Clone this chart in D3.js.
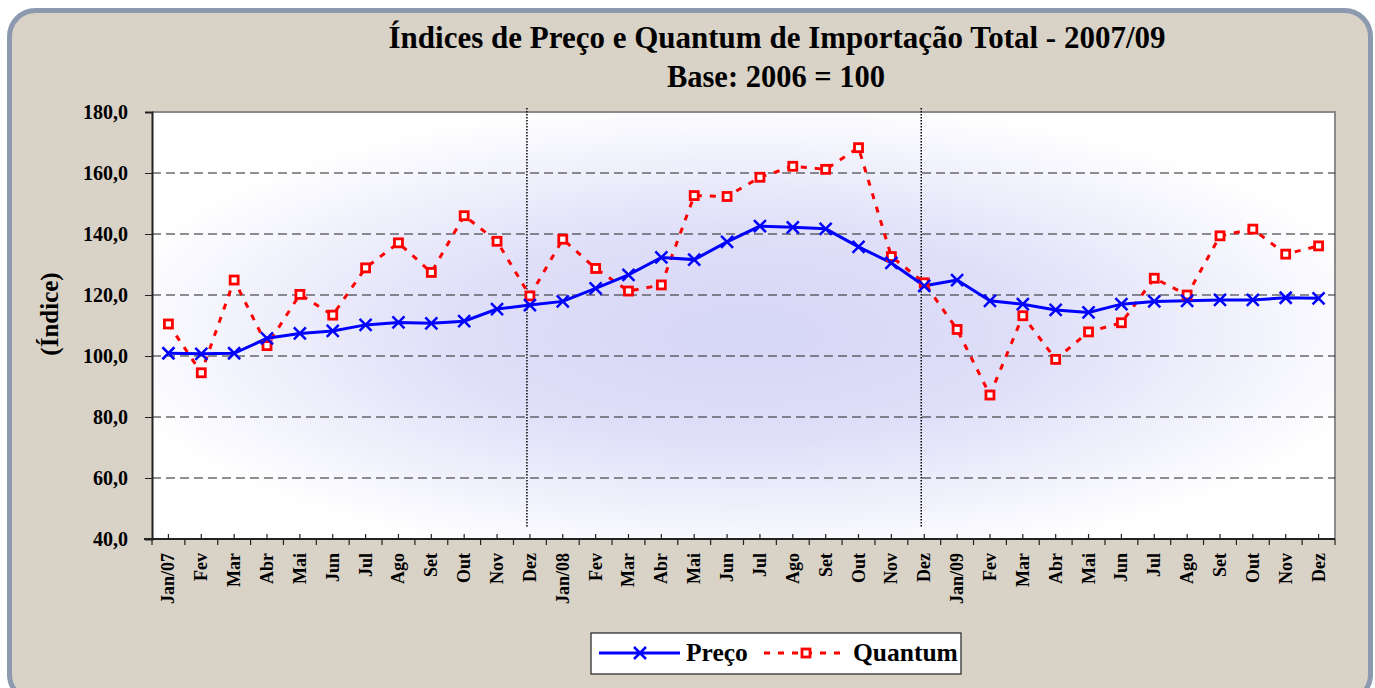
<!DOCTYPE html>
<html><head><meta charset="utf-8">
<script src="https://cdn.jsdelivr.net/npm/d3@7/dist/d3.min.js"></script>
<style>body{margin:0;background:#fff}svg{display:block}text{font-family:"Liberation Serif","Times New Roman",serif;font-weight:bold}</style>
</head><body><svg id="c" width="1375" height="688"></svg>
<script>
const months = ["Jan/07","Fev","Mar","Abr","Mai","Jun","Jul","Ago","Set","Out","Nov","Dez",
  "Jan/08","Fev","Mar","Abr","Mai","Jun","Jul","Ago","Set","Out","Nov","Dez",
  "Jan/09","Fev","Mar","Abr","Mai","Jun","Jul","Ago","Set","Out","Nov","Dez"];
const preco = [100.9,100.7,100.9,105.8,107.4,108.2,110.2,111.0,110.7,111.4,115.4,116.7,
  117.9,122.2,126.6,132.3,131.6,137.4,142.6,142.2,141.7,135.8,130.5,123.0,
  124.9,118.1,117.0,115.1,114.3,117.0,117.9,118.1,118.4,118.4,119.1,118.9];
const quantum = [110.5,94.5,124.9,103.4,120.2,113.4,128.9,137.1,127.4,146.0,137.6,119.7,
  138.3,128.7,121.3,123.3,152.6,152.3,158.6,162.2,161.2,168.3,132.6,124.0,
  108.7,87.2,113.2,98.9,107.9,110.9,125.5,120.0,139.4,141.6,133.4,136.1];
const yTicks = [40,60,80,100,120,140,160,180];
const dividers = [11,23];
const titleLines = ["Índices de Preço e Quantum de Importação Total - 2007/09","Base: 2006 = 100"];
const yTitle = "(Índice)";
const legendNames = ["Preço","Quantum"];

const svg = d3.select("#c");
const defs = svg.append("defs");
const rg = defs.append("radialGradient").attr("id","bg").attr("cx","0.5").attr("cy","0.52").attr("r","0.55");
rg.append("stop").attr("offset","0").attr("stop-color","#d6d6f6");
rg.append("stop").attr("offset","0.45").attr("stop-color","#dfdff9");
rg.append("stop").attr("offset","1").attr("stop-color","#ffffff");

// frame
svg.append("rect").attr("x",9.5).attr("y",10.5).attr("width",1361).attr("height",690).attr("rx",26)
  .attr("fill","#d9d2c7").attr("stroke","#8c99ae").attr("stroke-width",5);

const L=152, T=112, R=1335, B=539;
const x = d3.scaleBand().domain(d3.range(months.length)).range([L,R]);
const y = d3.scaleLinear().domain([40,180]).range([B,T]);
const cx = i => x(i)+x.bandwidth()/2;

svg.append("rect").attr("x",L).attr("y",T).attr("width",R-L).attr("height",B-T).attr("fill","url(#bg)");
svg.append("path").attr("d",`M${L},${T}H${R}V${B}`).attr("fill","none").attr("stroke","#8a8a8a").attr("stroke-width",2);

// gridlines
svg.append("g").selectAll("line").data(yTicks.filter(v=>v>40 && v<180)).join("line")
  .attr("x1",L).attr("x2",R).attr("y1",d=>y(d)).attr("y2",d=>y(d))
  .attr("stroke","#222").attr("stroke-width",1.2).attr("stroke-dasharray","9,5");

// dividers
svg.append("g").selectAll("line").data(dividers).join("line")
  .attr("x1",d=>cx(d)-3).attr("x2",d=>cx(d)-3).attr("y1",108).attr("y2",527)
  .attr("stroke","#000").attr("stroke-width",1.5).attr("stroke-dasharray","1.5,1.5");

// y axis
const yAxis = d3.axisLeft(y).tickValues(yTicks).tickSize(7).tickPadding(17)
  .tickFormat(d=>d3.format(".1f")(d).replace(".",","));
const gy = svg.append("g").attr("transform",`translate(${L},0)`).call(yAxis);
gy.select(".domain").attr("stroke","#222").attr("stroke-width",2);
gy.selectAll(".tick line").attr("stroke","#222");
gy.selectAll("text").attr("font-size",20).attr("fill","#000").attr("font-family","Liberation Serif").attr("font-weight","bold");

// x axis
const gx = svg.append("g");
gx.append("line").attr("x1",L-8).attr("x2",R).attr("y1",B).attr("y2",B).attr("stroke","#222").attr("stroke-width",2);
gx.selectAll("line.maj").data(d3.range(months.length+1)).join("line").attr("class","maj")
  .attr("x1",i=>L+i*x.step()).attr("x2",i=>L+i*x.step()).attr("y1",B).attr("y2",B+6).attr("stroke","#222").attr("stroke-width",1.2);
gx.selectAll("line.min").data(d3.range(months.length)).join("line").attr("class","min")
  .attr("x1",cx).attr("x2",cx).attr("y1",B).attr("y2",B-5).attr("stroke","#222").attr("stroke-width",1.2);
gx.selectAll("text").data(months).join("text")
  .attr("transform",(d,i)=>`translate(${cx(i)+6},553) rotate(-90)`)
  .attr("text-anchor","end").attr("font-size",18).text(d=>d);

// lines
const lineGen = d3.line().x((d,i)=>cx(i)).y(d=>y(d));
svg.append("path").datum(quantum).attr("d",lineGen).attr("fill","none").attr("stroke","#ff0000")
  .attr("stroke-width",3).attr("stroke-dasharray","6,8");
svg.append("path").datum(preco).attr("d",lineGen).attr("fill","none").attr("stroke","#0000ff").attr("stroke-width",3);

// markers
function xMark(g,px,py){ const s=6;
  g.append("path").attr("d",`M${px-s},${py-s}L${px+s},${py+s}M${px-s},${py+s}L${px+s},${py-s}`)
   .attr("stroke","#0000ff").attr("stroke-width",2.5).attr("fill","none"); }
function sqMark(g,px,py){
  g.append("rect").attr("x",px-4).attr("y",py-4).attr("width",8).attr("height",8)
   .attr("fill","#fff").attr("stroke","#ff0000").attr("stroke-width",2.8); }
const gm = svg.append("g");
quantum.forEach((v,i)=>sqMark(gm,cx(i),y(v)));
preco.forEach((v,i)=>xMark(gm,cx(i),y(v)));

// titles
svg.append("text").attr("x",777).attr("y",48).attr("text-anchor","middle").attr("font-size",31).text(titleLines[0]);
svg.append("text").attr("x",776).attr("y",87).attr("text-anchor","middle").attr("font-size",30.5).text(titleLines[1]);
svg.append("text").attr("transform","translate(58,314) rotate(-90)").attr("text-anchor","middle").attr("font-size",25).text(yTitle);

// legend
const lg = svg.append("g");
lg.append("rect").attr("x",591).attr("y",633).attr("width",370).attr("height",41).attr("fill","#fff").attr("stroke","#222").attr("stroke-width",1.2);
lg.append("line").attr("x1",599).attr("x2",680).attr("y1",653).attr("y2",653).attr("stroke","#0000ff").attr("stroke-width",3);
xMark(lg,640,653);
lg.append("text").attr("x",686).attr("y",661).attr("font-size",25.5).text(legendNames[0]);
lg.append("line").attr("x1",764).attr("x2",847).attr("y1",653).attr("y2",653).attr("stroke","#ff0000").attr("stroke-width",3).attr("stroke-dasharray","6,8");
sqMark(lg,806,653);
lg.append("text").attr("x",853).attr("y",661).attr("font-size",25.5).text(legendNames[1]);
</script></body></html>
